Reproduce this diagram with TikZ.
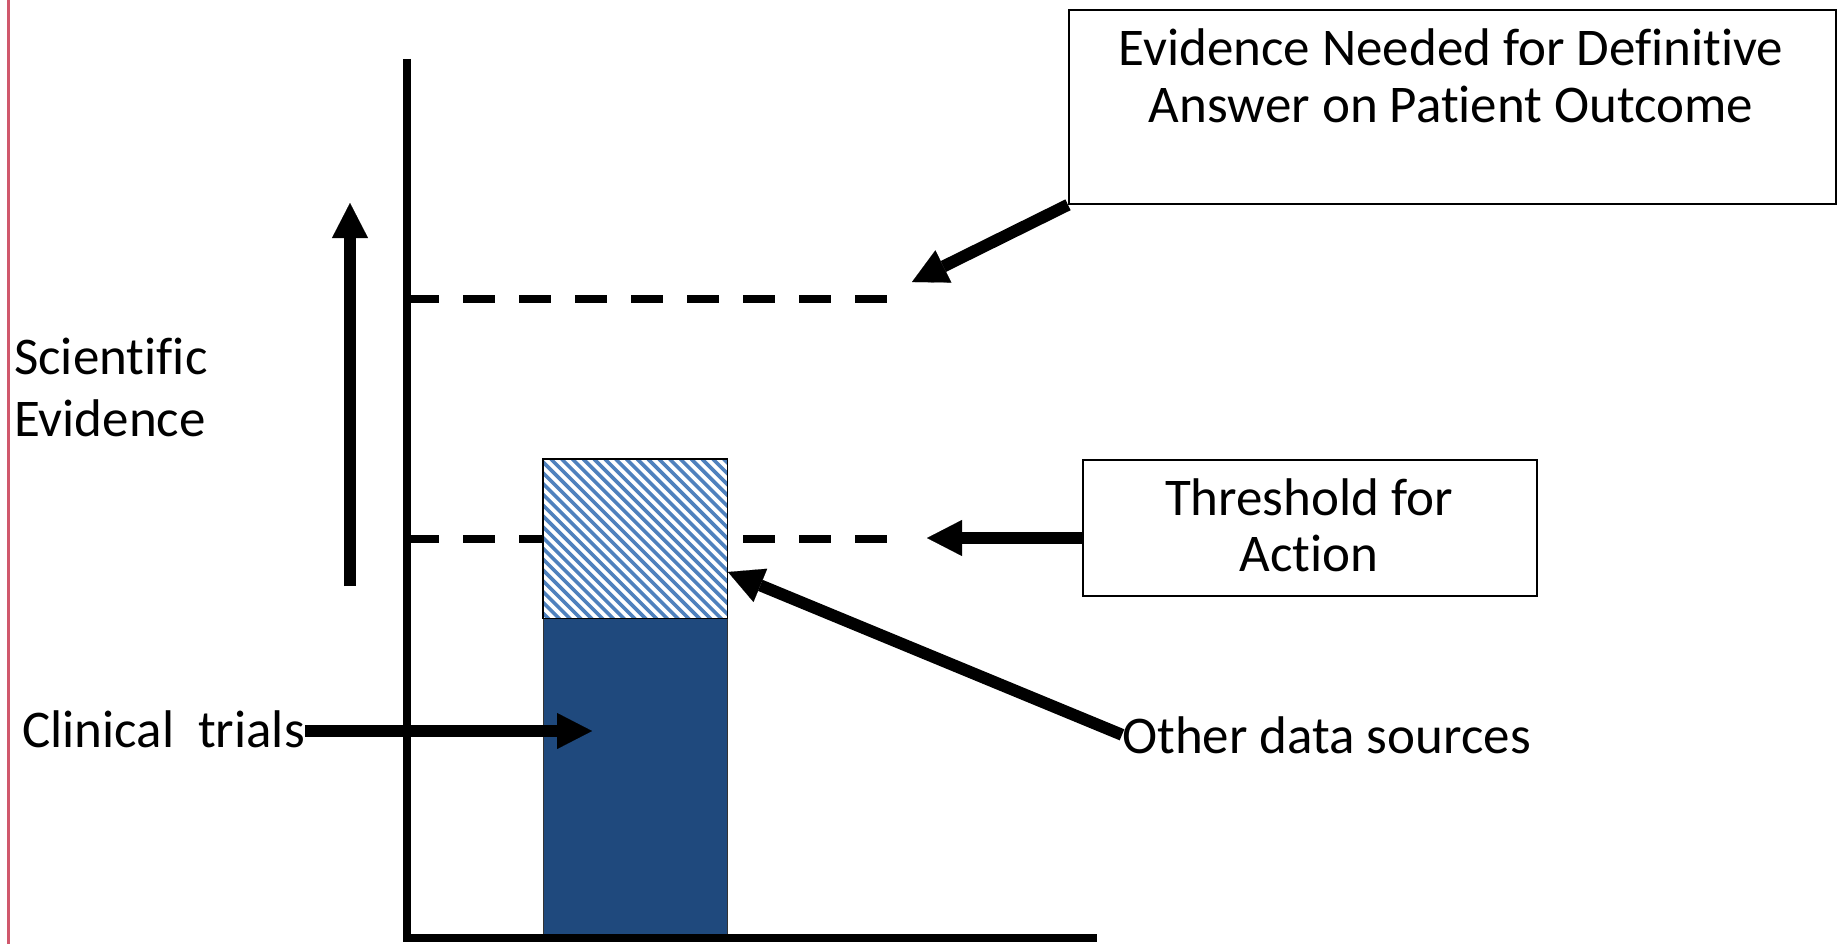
\documentclass[tikz,border=0pt]{standalone}
\usepackage{fontspec}
\setmainfont[Ligatures=NoCommon]{Carlito}
\usetikzlibrary{arrows.meta}
\definecolor{darkblue}{RGB}{31,73,125}
\definecolor{hatchblue}{RGB}{79,129,189}
\definecolor{pinkline}{RGB}{208,88,108}
\tikzset{
  bigarrow/.style={line width=12pt, -{Triangle[length=35pt,width=36pt,line width=0.1pt]}},
  axisline/.style={line width=8pt, line join=miter},
  dashline/.style={line width=8pt, dash pattern=on 32pt off 24pt},
  labelbox/.style={draw, line width=1.8pt, inner sep=0pt, anchor=north west},
  lbl/.style={font=\fontsize{53}{57}\selectfont, inner sep=0pt},
  hatchline/.style={hatchblue, line width=3.6pt},
}
\begin{document}
\begin{tikzpicture}[x=1pt,y=-1pt]
\useasboundingbox (0,0) rectangle (1839,944);
% left margin line
\draw[pinkline, line width=2.5pt] (8.5,0) -- (8.5,944);

% coordinates
\coordinate (ytop) at (407,59);
\coordinate (origin) at (407,938);
\coordinate (xend) at (1097,938);

% dashed levels
\draw[dashline] (407,299) -- (887,299);
\draw[dashline] (407,539) -- (887,539);

% bar: solid part
\node[draw=black!80, line width=1.2pt, fill=darkblue, minimum width=184, minimum height=320, inner sep=0pt, anchor=north west] (solid) at (543,618) {};
% bar: hatched part
\node[minimum width=184, minimum height=159, inner sep=0pt, anchor=north west, fill=white] (hatch) at (543,459) {};
\begin{scope}
  \clip (543,459) rectangle (727,618);
  \foreach \k in {-17,...,19} \draw[hatchline] ({540+10.8*\k},459) -- ++(170,170);
\end{scope}
\draw[line width=1.8pt] (hatch.north west) rectangle (hatch.south east);

% axes
\draw[axisline] (ytop) -- (origin) -- (xend);

% boxes
\node[labelbox, minimum width=767, minimum height=194] (evbox) at (1068,9) {};
\node[labelbox, minimum width=454, minimum height=136] (thr) at (1082,459) {};

% texts
\node[lbl, anchor=base] (ev1) at (1451,66) {Evidence Needed for Definitive};
\node[lbl, anchor=base] (ev2) at (1451,123) {Answer on Patient Outcome};
\node[lbl, anchor=base] (th1) at (1309,515) {Threshold for};
\node[lbl, anchor=base] (th2) at (1309,571) {Action};
\node[lbl, anchor=base west] (sci1) at (14,374) {Scientific};
\node[lbl, anchor=base west] (sci2) at (14,436) {Evidence};
\node[lbl, anchor=base west] (ct) at (22,747) {Clinical\ \ trials};
\node[lbl, anchor=base west] (ods) at (1122,753) {Other data sources};

% arrow ends
\coordinate (vbot) at (350,586);
\coordinate (vtop) at (350,203);
\coordinate (evtip) at (912,282);
\coordinate (thtip) at (927,538);
\coordinate (cttip) at (592,731);
\coordinate (odtip) at (728,572);

% arrows
\draw[bigarrow] (vbot) -- (vtop);
\draw[bigarrow] (evbox.south west) -- (evtip);
\draw[bigarrow] (thr.west |- thtip) -- (thtip);
\draw[bigarrow] (ct.east |- cttip) -- (cttip);
\draw[bigarrow] (ods.west) -- (odtip);
\end{tikzpicture}
\end{document}
